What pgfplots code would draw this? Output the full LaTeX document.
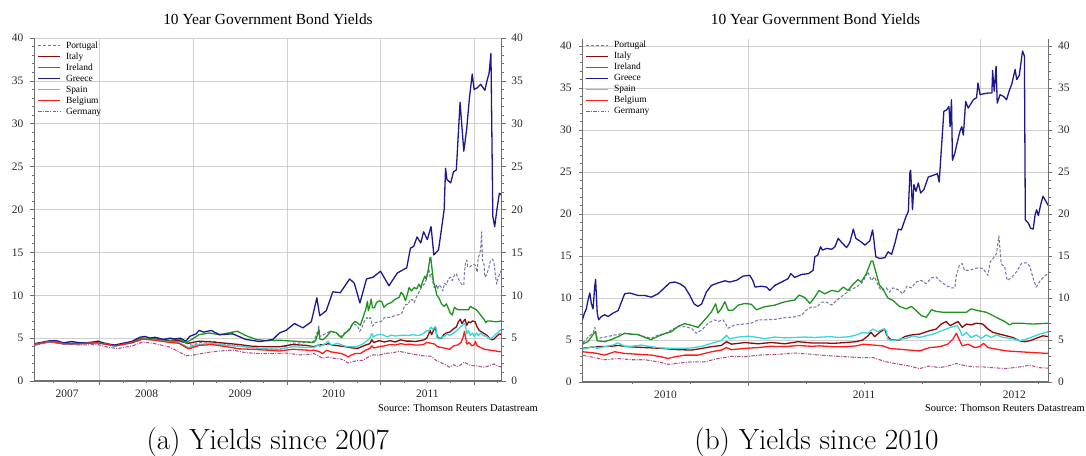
\documentclass[border=0pt]{standalone}
\usepackage{fontspec}
\usepackage{pgfplots}
\usepackage{pgfplotstable}
\pgfplotsset{compat=1.18}
\newfontfamily\tms{Liberation Serif}

\definecolor{ptcol}{HTML}{7878AA}
\definecolor{itcol}{HTML}{8B0A0A}
\definecolor{iecol}{HTML}{1E941E}
\definecolor{grcol}{HTML}{1A1A8E}
\definecolor{escol}{HTML}{38D8D8}
\definecolor{becol}{HTML}{FF1A1A}
\definecolor{decol}{HTML}{A8508C}
\definecolor{axisgray}{HTML}{707070}
\definecolor{gridgray}{HTML}{CFCFCF}

% 10y yields, time in decimal years
\pgfplotstableread{
t v
2007.30 4.3
2007.47 4.65
2007.61 4.4
2007.79 4.4
2007.98 4.6
2008.16 4.15
2008.34 4.55
2008.46 5.0
2008.59 4.95
2008.75 4.7
2008.846 4.65
2008.99 4.15
2009.06 4.45
2009.20 4.65
2009.35 4.25
2009.49 4.05
2009.63 3.9
2009.78 3.75
2009.92 3.7
2010.06 4.4
2010.17 4.45
2010.26 4.6
2010.286 4.6
2010.31 5.3
2010.332 5.85
2010.34 6.5
2010.35 5.2
2010.375 5.3
2010.41 5.5
2010.454 5.75
2010.483 5.75
2010.526 5.6
2010.555 5.4
2010.583 5.2
2010.612 5.6
2010.641 5.75
2010.67 6.2
2010.70 6.6
2010.727 6.6
2010.756 6.4
2010.777 5.8
2010.80 6.2
2010.828 7.0
2010.856 7.4
2010.87 7.2
2010.892 7.4
2010.914 6.4
2010.943 6.8
2010.986 6.9
2011.014 7.0
2011.043 7.4
2011.07 7.4
2011.115 7.45
2011.158 7.65
2011.20 7.75
2011.23 7.95
2011.25 8.55
2011.273 8.95
2011.295 8.9
2011.316 9.5
2011.338 9.5
2011.36 9.15
2011.38 9.7
2011.408 10.3
2011.437 10.9
2011.466 11.3
2011.494 11.9
2011.516 13.1
2011.53 12.1
2011.545 12.5
2011.56 11.5
2011.573 10.9
2011.595 11.2
2011.609 10.7
2011.624 11.2
2011.645 11.0
2011.667 10.5
2011.684 11.4
2011.703 11.2
2011.724 11.9
2011.746 12.1
2011.767 11.7
2011.79 12.4
2011.81 12.5
2011.832 11.9
2011.853 11.5
2011.875 11.2
2011.89 11.2
2011.897 12.7
2011.91 13.9
2011.922 14.1
2011.932 13.3
2011.954 13.3
2011.976 13.5
2011.994 13.6
2012.011 13.5
2012.033 12.7
2012.043 14.3
2012.055 14.7
2012.07 15.3
2012.08 17.4
2012.09 14.1
2012.105 13.7
2012.116 12.1
2012.134 12.4
2012.155 13.1
2012.177 14.1
2012.198 14.2
2012.213 13.8
2012.227 12.4
2012.241 11.3
2012.259 12.1
2012.277 12.6
2012.293 12.9
}\pttab

\pgfplotstableread{
t v
2007.30 4.25
2007.47 4.6
2007.61 4.35
2007.79 4.35
2007.98 4.5
2008.16 4.1
2008.34 4.5
2008.46 4.95
2008.59 4.85
2008.75 4.65
2008.846 4.7
2008.95 4.4
2009.06 4.65
2009.20 4.55
2009.35 4.4
2009.49 4.25
2009.63 4.05
2009.78 4.0
2009.92 4.0
2010.065 4.25
2010.21 4.15
2010.26 4.05
2010.286 4.0
2010.34 4.2
2010.41 4.25
2010.44 4.35
2010.483 4.2
2010.555 4.1
2010.626 4.0
2010.70 3.85
2010.756 3.8
2010.80 4.0
2010.842 4.2
2010.885 4.35
2010.907 4.8
2010.928 4.5
2010.986 4.7
2011.043 4.55
2011.10 4.7
2011.158 4.55
2011.215 4.8
2011.273 4.65
2011.33 4.65
2011.365 4.6
2011.422 4.7
2011.466 4.8
2011.494 5.0
2011.516 5.5
2011.53 5.9
2011.545 5.4
2011.566 5.9
2011.588 6.3
2011.598 5.5
2011.616 5.0
2011.652 5.0
2011.674 5.4
2011.703 5.6
2011.738 5.7
2011.782 6.1
2011.81 6.3
2011.832 6.9
2011.853 7.2
2011.87 6.7
2011.89 7.0
2011.904 7.2
2011.922 6.5
2011.94 6.9
2011.96 6.8
2011.983 7.0
2012.011 6.9
2012.033 6.3
2012.055 5.9
2012.083 5.7
2012.112 5.5
2012.14 5.3
2012.17 4.9
2012.191 4.8
2012.213 4.9
2012.241 5.2
2012.27 5.5
2012.293 5.4
}\ittab

\pgfplotstableread{
t v
2007.30 4.3
2007.47 4.65
2007.61 4.4
2007.79 4.4
2007.98 4.6
2008.16 4.15
2008.34 4.55
2008.46 5.0
2008.59 4.95
2008.75 4.75
2008.846 4.9
2008.92 4.45
2008.99 4.9
2009.06 5.4
2009.17 5.6
2009.28 5.4
2009.42 5.7
2009.47 5.8
2009.56 5.3
2009.67 4.85
2009.78 4.7
2009.92 4.75
2010.065 4.65
2010.21 4.55
2010.26 4.5
2010.286 4.5
2010.31 4.8
2010.336 5.8
2010.342 6.0
2010.35 4.9
2010.382 4.8
2010.41 5.05
2010.44 5.4
2010.468 5.8
2010.497 5.7
2010.526 5.65
2010.555 5.3
2010.583 5.05
2010.612 5.45
2010.641 5.75
2010.67 6.0
2010.70 6.65
2010.727 6.95
2010.756 6.75
2010.784 6.5
2010.813 7.4
2010.842 8.35
2010.86 9.3
2010.87 8.2
2010.885 8.75
2010.90 9.55
2010.914 8.55
2010.935 8.55
2010.957 9.15
2010.986 9.35
2011.014 9.25
2011.036 8.6
2011.07 8.95
2011.115 9.15
2011.158 9.55
2011.20 9.75
2011.22 10.35
2011.244 10.05
2011.266 9.35
2011.287 10.1
2011.305 10.9
2011.33 10.5
2011.36 10.9
2011.388 10.75
2011.41 11.3
2011.43 10.9
2011.451 11.6
2011.473 12.2
2011.487 11.9
2011.509 12.9
2011.53 14.4
2011.537 14.4
2011.55 13.1
2011.566 11.5
2011.58 11.1
2011.602 10.0
2011.624 9.7
2011.652 9.0
2011.681 8.7
2011.703 9.0
2011.724 8.5
2011.746 7.9
2011.767 7.7
2011.79 8.6
2011.81 8.4
2011.84 8.3
2011.882 8.3
2011.94 8.3
2011.96 8.7
2011.99 8.5
2012.026 8.3
2012.055 7.9
2012.083 7.5
2012.105 7.2
2012.126 6.8
2012.14 7.0
2012.17 7.0
2012.227 6.9
2012.293 7.0
}\ietab

% Greece, weekly readings (panel a)
\pgfplotstableread{
t v
2007.30 4.35
2007.35 4.45
2007.47 4.7
2007.54 4.7
2007.61 4.45
2007.70 4.6
2007.79 4.45
2007.90 4.45
2007.98 4.65
2008.07 4.3
2008.16 4.2
2008.25 4.4
2008.34 4.6
2008.43 5.1
2008.48 5.2
2008.54 5.0
2008.59 5.1
2008.68 4.85
2008.75 5.0
2008.80 4.9
2008.86 5.0
2008.92 4.65
2008.96 5.2
2009.03 5.5
2009.06 5.9
2009.11 5.7
2009.19 5.9
2009.28 5.4
2009.42 5.5
2009.56 4.85
2009.71 4.6
2009.85 4.85
2009.92 5.6
2009.99 5.9
2010.08 6.7
2010.17 6.2
2010.26 6.9
2010.32 9.7
2010.35 7.6
2010.42 8.2
2010.49 10.4
2010.57 10.3
2010.67 11.9
2010.72 11.4
2010.78 9.1
2010.85 11.9
2010.92 12.1
2011.00 12.8
2011.09 11.1
2011.18 12.6
2011.28 13.2
2011.32 15.5
2011.355 15.7
2011.39 16.8
2011.43 16.1
2011.46 17.4
2011.50 16.5
2011.54 18.0
2011.57 14.7
2011.62 15.3
2011.65 17.6
2011.68 20.0
2011.695 24.8
2011.71 23.5
2011.75 23.1
2011.78 24.4
2011.81 24.6
2011.85 32.5
2011.89 26.8
2011.92 29.3
2011.95 33.0
2011.98 35.8
2012.00 34.0
2012.035 34.2
2012.07 34.6
2012.115 33.9
2012.14 35.1
2012.16 35.9
2012.18 38.2
2012.20 19.2
2012.22 18.0
2012.244 20.0
2012.27 21.9
2012.293 21.7
}\grtabL

% Greece, daily readings (panel b)
\pgfplotstableread{
t v
2010.26 6.9
2010.286 7.4
2010.295 8.2
2010.303 8.7
2010.31 9.7
2010.318 10.6
2010.325 9.3
2010.332 8.7
2010.339 11.3
2010.343 12.2
2010.35 8.2
2010.356 7.4
2010.368 7.8
2010.382 8.0
2010.397 7.8
2010.418 8.2
2010.44 8.5
2010.457 9.7
2010.468 10.5
2010.49 10.6
2010.526 10.3
2010.555 10.3
2010.583 10.1
2010.612 10.5
2010.641 11.25
2010.662 11.8
2010.684 11.9
2010.705 11.7
2010.727 11.3
2010.749 10.3
2010.767 9.3
2010.784 9.0
2010.80 9.3
2010.82 10.7
2010.842 11.5
2010.871 11.8
2010.90 12.05
2010.92 11.9
2010.95 12.1
2010.978 12.6
2011.007 12.7
2011.02 12.1
2011.03 11.3
2011.057 11.4
2011.08 11.3
2011.093 10.9
2011.115 11.5
2011.144 11.9
2011.172 12.3
2011.184 12.9
2011.20 12.45
2011.23 12.8
2011.26 12.9
2011.28 13.3
2011.287 14.9
2011.30 15.1
2011.312 16.1
2011.32 15.7
2011.338 15.9
2011.36 15.8
2011.374 16.1
2011.388 17.1
2011.40 16.7
2011.424 16.0
2011.438 16.6
2011.453 18.2
2011.464 17.1
2011.49 16.6
2011.503 16.3
2011.524 16.8
2011.536 18.1
2011.54 17.3
2011.55 14.9
2011.567 14.7
2011.589 14.8
2011.603 15.5
2011.618 15.2
2011.632 16.5
2011.647 18.2
2011.66 18.1
2011.68 19.7
2011.69 20.3
2011.697 25.0
2011.70 25.2
2011.708 20.5
2011.714 23.5
2011.723 22.7
2011.733 23.7
2011.743 22.5
2011.757 22.9
2011.776 24.4
2011.797 24.6
2011.815 24.8
2011.823 23.8
2011.833 28.0
2011.843 32.2
2011.855 32.4
2011.865 32.8
2011.87 30.4
2011.876 33.6
2011.88 26.4
2011.89 27.2
2011.898 28.2
2011.912 29.8
2011.92 30.4
2011.927 29.4
2011.937 33.4
2011.948 32.6
2011.97 33.6
2011.984 33.85
2011.99 35.6
2011.999 34.2
2012.013 34.3
2012.034 34.4
2012.05 34.4
2012.053 37.1
2012.06 34.6
2012.068 37.6
2012.073 33.2
2012.085 34.2
2012.10 34.0
2012.113 33.6
2012.125 34.7
2012.135 35.4
2012.15 37.2
2012.157 36.0
2012.168 36.5
2012.182 39.4
2012.19 38.8
2012.194 19.3
2012.207 18.9
2012.217 18.3
2012.228 18.2
2012.236 19.9
2012.243 20.5
2012.25 19.8
2012.26 21.1
2012.27 22.1
2012.283 21.5
2012.293 21.0
}\grtab

\pgfplotstableread{
t v
2007.30 4.25
2007.47 4.6
2007.61 4.35
2007.79 4.35
2007.98 4.45
2008.16 4.05
2008.34 4.45
2008.46 4.9
2008.59 4.8
2008.75 4.55
2008.846 4.45
2008.95 3.9
2009.06 4.25
2009.20 4.4
2009.35 4.15
2009.49 4.05
2009.63 3.9
2009.78 3.75
2009.92 3.7
2010.065 4.0
2010.21 3.9
2010.26 3.95
2010.286 3.9
2010.34 4.25
2010.347 4.0
2010.382 4.2
2010.418 4.4
2010.44 4.65
2010.468 4.25
2010.497 4.25
2010.54 4.4
2010.583 4.2
2010.626 4.05
2010.67 4.0
2010.713 4.0
2010.756 4.05
2010.80 4.25
2010.842 4.6
2010.885 4.95
2010.907 5.55
2010.92 5.15
2010.957 5.35
2011.0 5.45
2011.043 5.3
2011.07 5.15
2011.115 5.35
2011.158 5.25
2011.20 5.3
2011.244 5.35
2011.287 5.3
2011.35 5.4
2011.394 5.3
2011.437 5.4
2011.466 5.6
2011.494 5.9
2011.516 5.8
2011.537 6.3
2011.56 6.0
2011.58 6.3
2011.595 6.1
2011.602 5.1
2011.624 4.9
2011.652 5.1
2011.681 5.2
2011.71 5.5
2011.738 5.3
2011.767 5.5
2011.796 5.7
2011.825 6.0
2011.853 6.3
2011.882 6.6
2011.90 6.7
2011.91 6.3
2011.922 5.5
2011.94 5.9
2011.96 5.3
2011.983 5.6
2012.004 5.2
2012.026 5.6
2012.047 5.3
2012.07 5.6
2012.098 5.3
2012.134 5.2
2012.17 4.9
2012.198 5.1
2012.227 5.4
2012.256 5.7
2012.293 6.0
}\estab

\pgfplotstableread{
t v
2007.30 4.25
2007.47 4.6
2007.61 4.35
2007.79 4.35
2007.98 4.45
2008.16 4.1
2008.34 4.45
2008.46 4.9
2008.59 4.75
2008.75 4.5
2008.846 4.4
2008.95 3.75
2009.06 4.15
2009.20 4.25
2009.35 4.0
2009.49 3.75
2009.63 3.7
2009.78 3.6
2009.92 3.5
2010.065 3.7
2010.21 3.6
2010.26 3.55
2010.286 3.6
2010.34 3.45
2010.382 3.2
2010.425 3.6
2010.468 3.4
2010.526 3.3
2010.583 3.2
2010.626 3.0
2010.655 2.8
2010.684 3.0
2010.727 3.2
2010.784 3.2
2010.842 3.6
2010.885 3.8
2010.907 4.1
2010.928 3.85
2010.986 4.0
2011.043 4.1
2011.10 4.25
2011.158 4.2
2011.215 4.35
2011.273 4.25
2011.307 4.3
2011.365 4.2
2011.422 4.2
2011.466 4.3
2011.494 4.5
2011.537 4.4
2011.58 4.3
2011.609 4.0
2011.652 3.9
2011.695 3.8
2011.738 3.7
2011.782 4.1
2011.825 4.2
2011.86 4.5
2011.882 5.1
2011.897 5.8
2011.91 5.0
2011.922 4.3
2011.947 4.5
2011.976 4.1
2011.997 4.2
2012.014 4.6
2012.033 4.1
2012.07 3.9
2012.112 3.7
2012.17 3.6
2012.227 3.5
2012.293 3.4
}\betab

\pgfplotstableread{
t v
2007.30 4.15
2007.47 4.55
2007.61 4.3
2007.79 4.2
2007.98 4.25
2008.10 3.9
2008.20 3.8
2008.35 4.1
2008.46 4.55
2008.59 4.35
2008.75 3.95
2008.846 3.4
2008.92 2.95
2008.99 3.0
2009.13 3.3
2009.28 3.5
2009.42 3.6
2009.56 3.3
2009.71 3.2
2009.85 3.2
2009.99 3.25
2010.13 3.05
2010.25 3.1
2010.286 3.2
2010.34 2.9
2010.382 2.65
2010.44 2.8
2010.497 2.65
2010.555 2.65
2010.612 2.4
2010.655 2.1
2010.70 2.25
2010.756 2.4
2010.813 2.4
2010.87 2.8
2010.928 3.05
2010.986 3.0
2011.043 3.2
2011.13 3.3
2011.20 3.45
2011.273 3.3
2011.307 3.2
2011.365 3.1
2011.422 3.0
2011.48 2.9
2011.537 2.9
2011.595 2.4
2011.652 2.1
2011.695 1.9
2011.738 1.6
2011.782 1.9
2011.825 1.7
2011.86 1.9
2011.897 2.2
2011.925 2.0
2011.968 1.8
2012.011 1.8
2012.055 1.7
2012.112 1.6
2012.17 1.8
2012.213 2.0
2012.256 1.7
2012.293 1.65
}\detab

% #1 = Greece table for the panel
\newcommand\allplots[1]{%
\addplot[ptcol, line width=1.05bp, dash pattern=on 3bp off 1.8bp] table[x=t,y=v] {\pttab};
\addplot[itcol, line width=1.3bp] table[x=t,y=v] {\ittab};
\addplot[iecol, line width=1.3bp] table[x=t,y=v] {\ietab};
\addplot[grcol, line width=1.3bp] table[x=t,y=v] {#1};
\addplot[escol, line width=1.3bp] table[x=t,y=v] {\estab};
\addplot[becol, line width=1.3bp] table[x=t,y=v] {\betab};
\addplot[decol, line width=1.05bp, dash pattern=on 3.5bp off 1.3bp on 1bp off 1.3bp] table[x=t,y=v] {\detab};
\legend{Portugal,Italy,Ireland,Greece,Spain,Belgium,Germany}
}

\pgfplotsset{
  common/.style={
    scale only axis, anchor=south west,
    ymin=0,
    axis line style={draw=axisgray, line width=1.1bp},
    tick align=outside,
    major tick length=4bp, minor tick length=2.3bp,
    tick style={draw=axisgray, line width=0.7bp},
    ytick={0,5,...,40}, minor y tick num=4,
    /pgf/number format/assume math mode=true,
    ticklabel style={font=\tms\fontsize{11.5}{13}\selectfont, text=black!85},
  },
  panel/.style={
    common,
    axis x line*=bottom, axis y line*=left,
    xticklabels={},
    grid=major, major grid style={draw=gridgray, line width=0.7bp},
    yticklabel style={xshift=-3.5bp},
    xticklabel style={yshift=-5bp},
    extra x tick style={grid=none, major tick length=0pt},
    legend style={draw=none, fill=none, at={(0,1)}, anchor=north west,
      inner sep=0pt, outer sep=0pt, column sep=5bp, row sep=1.3bp,
      font=\tms\fontsize{9.5}{11}\selectfont,
      nodes={inner sep=0pt, text height=7.5bp, text depth=2.2bp}},
    legend cell align=left,
    legend image code/.code={\draw[##1] (0bp,0bp) -- (22bp,0bp);},
    line join=round,
  },
  rside/.style={
    common,
    axis x line=none, axis y line*=right,
    yticklabel style={xshift=2.2bp},
    xmin=0, xmax=1,
  },
}

\begin{document}
\begin{tikzpicture}
\path[use as bounding box] (0,0) rectangle (1086bp,456bp);

% panel (a)
\begin{axis}[panel, at={(34.3bp,75bp)}, width=467.4bp, height=343bp,
  xmin=2007.30, xmax=2012.295, ymax=40,
  xtick={2008,2009,2010,2011,2012},
  minor xtick={2007.5,2007.75,2008.25,2008.5,2008.75,2009.25,2009.5,2009.75,2010.25,2010.5,2010.75,2011.25,2011.5,2011.75,2012.25},
  extra x ticks={2007.65,2008.5,2009.5,2010.5,2011.5},
  extra x tick labels={2007,2008,2009,2010,2011},
  legend style={xshift=3.4bp, yshift=-2.5bp}]
\allplots{\grtabL}
\end{axis}
\begin{axis}[rside, at={(34.3bp,75bp)}, width=467.4bp, height=343bp, ymax=40]
\end{axis}

% panel (b)
\begin{axis}[panel, at={(582.7bp,74bp)}, width=465.6bp, height=343bp,
  xmin=2010.2875, xmax=2012.293, ymax=40.83,
  xtick={2011,2012},
  minor xtick={2010.5,2010.75,2011.25,2011.5,2011.75,2012.25},
  extra x ticks={2010.644,2011.5,2012.147},
  extra x tick labels={2010,2011,2012},
  legend style={xshift=3bp, yshift=-1.5bp}]
\allplots{\grtab}
\end{axis}
\begin{axis}[rside, at={(582.7bp,74bp)}, width=465.6bp, height=343bp, ymax=40.83]
\end{axis}

\node[font=\tms\fontsize{15.5}{18}\selectfont, anchor=base] at (268bp,431bp) {10 Year Government Bond Yields};
\node[font=\tms\fontsize{15.5}{18}\selectfont, anchor=base] at (815.5bp,431bp) {10 Year Government Bond Yields};
\node[font=\tms\fontsize{10.5}{12}\selectfont, anchor=base east, inner sep=0pt] at (538bp,44.5bp) {Source: Thomson Reuters Datastream};
\node[font=\tms\fontsize{10.5}{12}\selectfont, anchor=base east, inner sep=0pt] at (1085bp,44.5bp) {Source: Thomson Reuters Datastream};
\node[font=\fontsize{29.3}{33}\selectfont, anchor=base, inner sep=0pt] at (267.8bp,6.6bp) {(a) Yields since 2007};
\node[font=\fontsize{29.3}{33}\selectfont, anchor=base, inner sep=0pt] at (816.5bp,6.6bp) {(b) Yields since 2010};
\end{tikzpicture}
\end{document}
